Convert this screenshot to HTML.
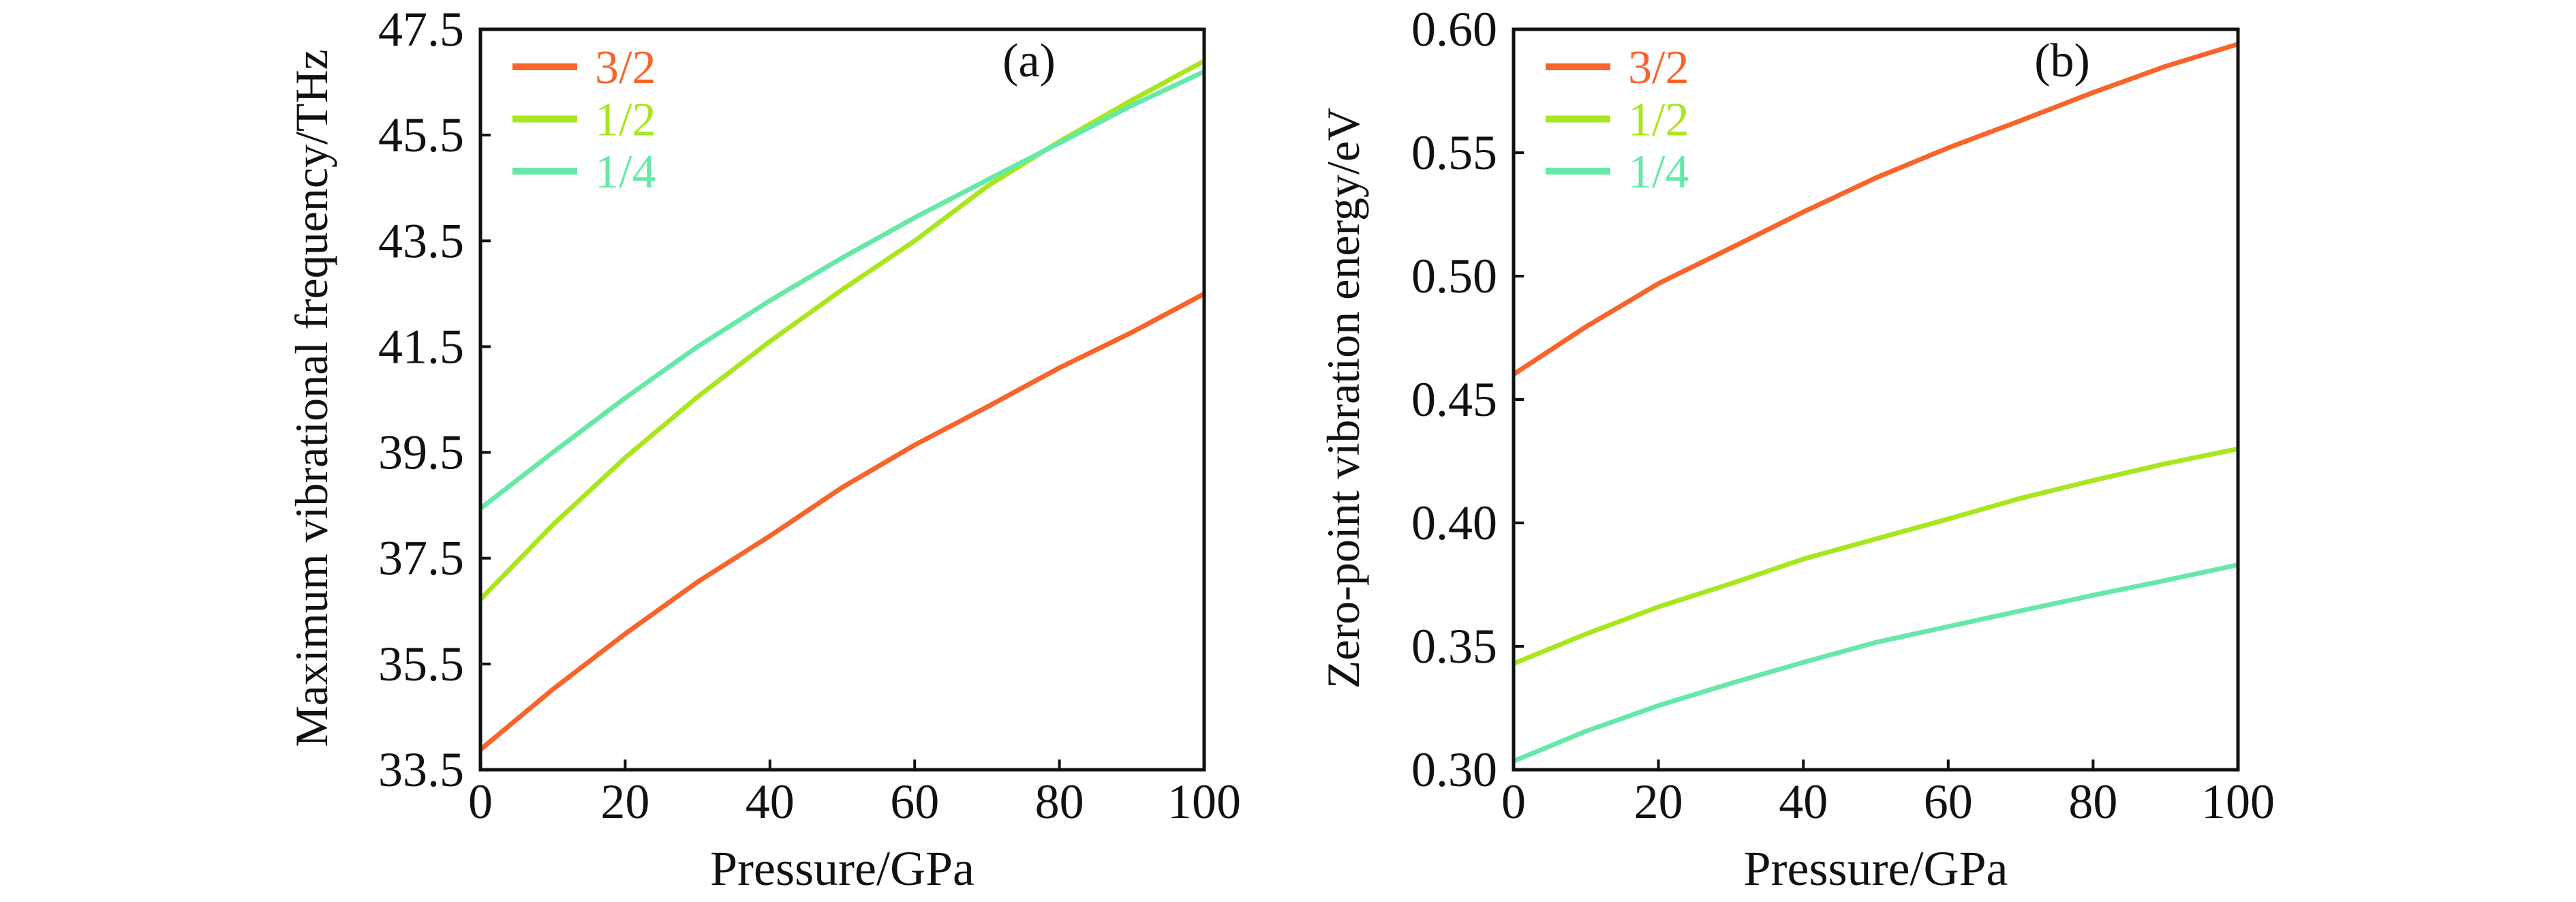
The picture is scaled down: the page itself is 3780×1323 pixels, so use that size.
<!DOCTYPE html>
<html><head><meta charset="utf-8">
<style>html,body{margin:0;padding:0;background:#fff}svg{display:block}</style>
</head><body>
<svg id="chart" width="3780" height="1323" viewBox="0 0 3780 1323" font-family="'Liberation Serif', 'Times New Roman', serif"></svg>
<script>
const pressures = [0,10,20,30,40,50,60,70,80,90,100];
const seriesNames = ["3/2","1/2","1/4"];
const freq32 = [33.88,35.02,36.07,37.05,37.92,38.84,39.64,40.36,41.10,41.77,42.50];
const freq12 = [36.72,38.13,39.40,40.55,41.60,42.58,43.50,44.53,45.38,46.16,46.90];
const freq14 = [38.44,39.50,40.53,41.50,42.37,43.18,43.94,44.65,45.35,46.06,46.70];
const zpe32 = [0.4602,0.4795,0.4970,0.5114,0.5260,0.5398,0.5520,0.5630,0.5744,0.5850,0.5940];
const zpe12 = [0.3430,0.3550,0.3660,0.3754,0.3854,0.3935,0.4016,0.4100,0.4172,0.4240,0.4300];
const zpe14 = [0.3035,0.3156,0.3260,0.3350,0.3435,0.3516,0.3580,0.3644,0.3707,0.3767,0.3830];
const xTicks = [0,20,40,60,80,100];
const yTicksA = ["33.5","35.5","37.5","39.5","41.5","43.5","45.5","47.5"];
const yTicksB = ["0.30","0.35","0.40","0.45","0.50","0.55","0.60"];
const colors = ["#f8642a","#a8e61e","#66e8a8"];

const NS="http://www.w3.org/2000/svg";
const svg=document.getElementById('chart');
const FF="Liberation Serif, serif";
function mk(tag,attrs,parent,txt){const e=document.createElementNS(NS,tag);for(const k in attrs)e.setAttribute(k,attrs[k]);if(tag==='text')e.setAttribute('font-family',FF);if(txt!==undefined)e.textContent=txt;(parent||svg).appendChild(e);return e;}

function panel(cfg){
  const g=mk('g',{});
  
  
  const L=cfg.left,R=cfg.right,T=43,B=1129;
  const xs=v=>L+(v-0)/100*(R-L);
  const ys=v=>B-(v-cfg.ymin)/(cfg.ymax-cfg.ymin)*(B-T);
  cfg.series.forEach((arr,i)=>{
    const d=arr.map((v,j)=>(j?'L':'M')+xs(pressures[j]).toFixed(1)+' '+ys(v).toFixed(1)).join(' ');
    const p=mk('path',{d:d,fill:'none',stroke:colors[i],'stroke-width':7,'stroke-linejoin':'round'},g);
    
    
  });
  const f=mk('rect',{x:L,y:T,width:R-L,height:B-T,fill:'none',stroke:'#111','stroke-width':5},g);
  
  
  xTicks.forEach(v=>{
    const x=xs(v);
    mk('line',{x1:x,x2:x,y1:B,y2:B-15,stroke:'#111','stroke-width':4},g);
    const t=mk('text',{x:x,y:1200,'font-size':72,'text-anchor':'middle',fill:'#111'},g,String(v));
    
    
  });
  cfg.yticks.forEach(s=>{
    const y=ys(parseFloat(s));
    mk('line',{x1:L,x2:L+15,y1:y,y2:y,stroke:'#111','stroke-width':4},g);
    const t=mk('text',{x:L-24,y:y+24,'font-size':72,'text-anchor':'end',fill:'#111'},g,s);
    
    
  });
  const xt=mk('text',{x:(L+R)/2,y:1298,'font-size':72,'text-anchor':'middle',fill:'#111'},g,'Pressure/GPa');
  
  
  const yt=mk('text',{x:0,y:0,'font-size':68,'text-anchor':'middle',fill:'#111',transform:`translate(${cfg.ytx},584) rotate(-90)`},g,cfg.ytitle);
  
  
  seriesNames.forEach((n,i)=>{
    const y=98+i*76.5;
    const lg=mk('g',{},g);
    
    
    mk('line',{x1:L+47,x2:L+142,y1:y,y2:y,stroke:colors[i],'stroke-width':10},lg);
    mk('text',{x:L+168,y:y+24,'font-size':70,fill:colors[i]},lg,n);
  });
  const pl=mk('text',{x:L+805,y:112,'font-size':70,'text-anchor':'middle',fill:'#111'},g,cfg.label);
  
  
}
panel({id:'panel-a',left:705,right:1767,ymin:33.5,ymax:47.5,series:[freq32,freq12,freq14],yticks:yTicksA,ytitle:'Maximum vibrational frequency/THz',ytx:480,label:'(a)'});
panel({id:'panel-b',left:2221,right:3284,ymin:0.30,ymax:0.60,series:[zpe32,zpe12,zpe14],yticks:yTicksB,ytitle:'Zero-point vibration energy/eV',ytx:1994,label:'(b)'});
</script>
</body></html>
